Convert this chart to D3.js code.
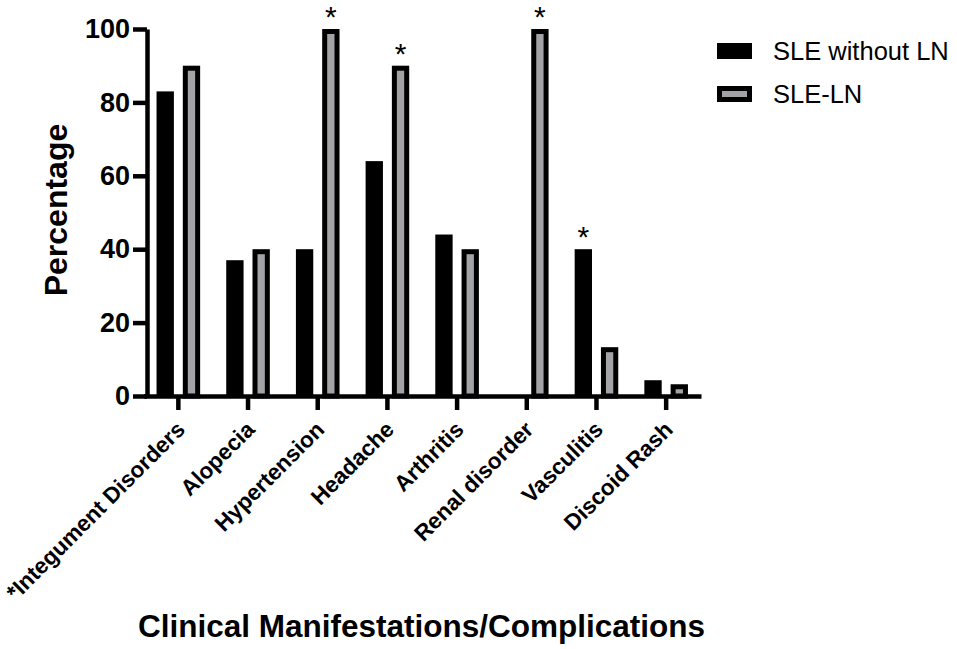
<!DOCTYPE html>
<html>
<head>
<meta charset="utf-8">
<script src="https://cdn.jsdelivr.net/npm/d3@7"></script>
<style>
  body { margin: 0; background: #fff; }
  text { font-family: "Liberation Sans", Arial, sans-serif; }
</style>
</head>
<body>
<div id="chart"></div>
<script>
const width = 957;
const height = 649;

// Data
const categories = ["*Integument Disorders", "Alopecia", "Hypertension", "Headache",
                    "Arthritis", "Renal disorder", "Vasculitis", "Discoid Rash"];
const series = ["SLE without LN", "SLE-LN"];
const withoutLN = [83, 37, 40, 64, 44, 0, 40, 4.3];
const withLN = [90, 40, 100, 90, 40, 100, 13.3, 3.2];
const yTicks = [0, 20, 40, 60, 80, 100];
// significance marks: [category, series]
const stars = [["Hypertension", "SLE-LN"], ["Headache", "SLE-LN"],
               ["Renal disorder", "SLE-LN"], ["Vasculitis", "SLE without LN"]];

const grey = "#a3a3a7";
const lineW = 4.5;

const margin = {top: 29, right: 259, bottom: 253, left: 147};
const innerW = width - margin.left - margin.right;
const innerH = height - margin.top - margin.bottom;

const svg = d3.select("#chart")
    .append("svg")
    .attr("width", width)
    .attr("height", height);

const g = svg.append("g")
    .attr("transform", `translate(${margin.left},${margin.top})`);

// Scales
const x0 = d3.scaleBand()
    .domain(categories)
    .range([-3.5, innerW + 3]);

const bw = x0.bandwidth();
const x1 = d3.scaleBand()
    .domain(series)
    .range([bw / 2 - 21.8, bw / 2 + 21.8])
    .paddingInner(0.34);

const y = d3.scaleLinear()
    .domain([0, 100])
    .range([innerH, 0]);

const rows = categories.map((c, i) => ({cat: c, a: withoutLN[i], b: withLN[i]}));

// Bars: SLE without LN (solid black)
g.selectAll(".barA")
    .data(rows)
    .enter()
    .append("rect")
    .attr("class", "barA")
    .attr("x", d => x0(d.cat) + x1(series[0]))
    .attr("width", x1.bandwidth())
    .attr("y", d => y(d.a))
    .attr("height", d => y(0) - y(d.a))
    .attr("fill", "#000");

// Bars: SLE-LN (grey with thick black outline)
const sw = 5;
g.selectAll(".barB")
    .data(rows)
    .enter()
    .append("rect")
    .attr("class", "barB")
    .attr("x", d => x0(d.cat) + x1(series[1]) + sw / 2)
    .attr("width", x1.bandwidth() - sw)
    .attr("y", d => y(d.b) + sw / 2)
    .attr("height", d => Math.max(0, y(0) - y(d.b) - sw / 2))
    .attr("fill", grey)
    .attr("stroke", "#000")
    .attr("stroke-width", sw);

// Asterisks
g.selectAll(".star")
    .data(stars)
    .enter()
    .append("text")
    .attr("class", "star")
    .attr("x", d => x0(d[0]) + x1(d[1]) + x1.bandwidth() / 2)
    .attr("y", d => {
        const i = categories.indexOf(d[0]);
        const v = d[1] === series[0] ? withoutLN[i] : withLN[i];
        return y(v) - 2;
    })
    .attr("text-anchor", "middle")
    .attr("font-size", 30)
    .text("*");

// Y axis
const yAxis = g.append("g")
    .call(d3.axisLeft(y).tickValues(yTicks).tickSize(14).tickSizeOuter(0).tickPadding(3));
yAxis.select(".domain").attr("stroke-width", lineW);
yAxis.selectAll(".tick line").attr("stroke-width", lineW);
yAxis.selectAll(".tick text")
    .attr("font-family", "Liberation Sans, Arial, sans-serif")
    .attr("font-size", 27)
    .attr("font-weight", "bold")
    .attr("fill", "#000");

// X axis
const xAxis = g.append("g")
    .attr("transform", `translate(0,${innerH})`)
    .call(d3.axisBottom(x0).tickSize(14).tickSizeOuter(0));
xAxis.select(".domain").attr("stroke-width", lineW);
xAxis.selectAll(".tick line").attr("stroke-width", lineW);
xAxis.selectAll(".tick text")
    .attr("y", null)
    .attr("dy", null)
    .attr("text-anchor", "end")
    .attr("transform", "translate(8,35) rotate(-45)")
    .attr("font-family", "Liberation Sans, Arial, sans-serif")
    .attr("font-size", 22.5)
    .attr("font-weight", "bold")
    .attr("fill", "#000");

// Axis titles
svg.append("text")
    .attr("transform", "translate(67,210) rotate(-90)")
    .attr("text-anchor", "middle")
    .attr("font-size", 32)
    .attr("font-weight", "bold")
    .text("Percentage");

svg.append("text")
    .attr("x", 421.5)
    .attr("y", 637)
    .attr("text-anchor", "middle")
    .attr("font-size", 31.5)
    .attr("font-weight", "bold")
    .text("Clinical Manifestations/Complications");

// Legend
const legend = svg.append("g").attr("transform", "translate(717,0)");
const legendY = [51, 94];

legend.append("rect")
    .attr("x", 0).attr("y", legendY[0] - 8)
    .attr("width", 35).attr("height", 16)
    .attr("fill", "#000");
legend.append("rect")
    .attr("x", 2.5).attr("y", legendY[1] - 8 + 2.5)
    .attr("width", 30).attr("height", 11)
    .attr("fill", grey)
    .attr("stroke", "#000")
    .attr("stroke-width", 5);

legend.selectAll(".ltext")
    .data(series)
    .enter()
    .append("text")
    .attr("class", "ltext")
    .attr("x", 56)
    .attr("y", (d, i) => legendY[i] + 9)
    .attr("font-size", 25.5)
    .text(d => d);
</script>
</body>
</html>
